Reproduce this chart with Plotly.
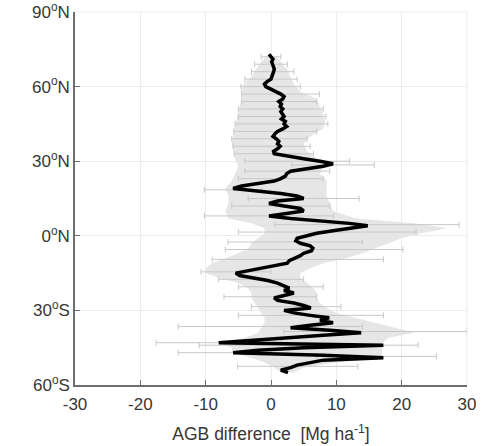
import plotly.graph_objects as go

# Zonal mean AGB difference (Mg/ha) by latitude (deg)
lat = [73, 72, 71, 70, 69, 68, 67, 66, 65, 64, 63, 62, 61, 60, 59, 58, 57, 56, 55, 54,
       53, 52, 51, 50, 49, 48, 47, 46, 45, 44, 43, 42, 41, 40, 39, 38, 37, 36, 35, 34,
       33, 32, 31, 30, 29, 28, 27, 26, 25, 24, 23, 22, 21, 20, 19, 18, 17, 16, 15, 14,
       13, 12, 11, 10, 9, 8, 7, 6, 5, 4, 3, 2, 1, 0, -1, -2, -3, -4, -5, -6,
       -7, -8, -9, -10, -11, -12, -13, -14, -15, -16, -17, -18, -19, -20, -21, -22, -23, -24, -25, -26,
       -27, -28, -29, -30, -31, -32, -33, -34, -35, -36, -37, -38, -39, -40, -41, -42, -43, -44, -45, -46,
       -47, -48, -49, -50, -51, -52, -53, -54, -55]
agb_diff = [-0.3, 0.0, 0.3, 0.1, 0.2, 0.3, 0.5, 0.4, 0.3, 0.2, 0.0, -0.6, -1.0, -0.8, 0.0, 0.8, 1.5, 2.0, 1.8, 1.2,
            1.6, 1.4, 1.8, 1.5, 1.7, 2.0, 1.6, 2.2, 2.0, 2.4, 1.8, 1.0, 0.6, 0.3, 0.8, 1.2, 1.0, 1.4, 1.0, 0.4,
            0.5, 2.5, 5.0, 7.5, 9.5, 8.0, 5.5, 3.0, 2.4, 2.2, 1.5, 0.5, -2.0, -4.5, -5.8, -2.0, 1.5, 4.0, 5.0, 1.0,
            -0.3, 2.0, 4.5, 5.0, 2.0, -0.3, 3.0, 8.0, 12.0, 14.8, 12.5, 9.5, 7.0, 5.5, 4.0, 3.8, 4.5, 6.0, 6.4, 6.2,
            5.0, 4.5, 3.5, 2.8, 2.5, 0.5, -2.0, -4.0, -5.4, -4.8, -2.5, -0.5, 1.0, 2.0, 2.8, 2.0, 3.5, 2.0, 0.5, 1.0,
            3.5, 5.0, 6.1, 2.0, 3.5, 6.0, 8.9, 7.5, 9.5, 6.0, 3.0, 9.0, 13.8, 8.0, 2.0, -3.0, -8.0, 17.2, 5.0, -2.0,
            -5.8, 8.0, 17.2, 8.0, 5.7, 4.0, 3.0, 1.5, 2.6]

# Shaded uncertainty band
band_lat = [72, 70, 67, 64, 61, 58, 55, 52, 49, 46, 43, 40, 37, 34, 31, 28, 25, 22, 19, 16,
            13, 10, 7, 5, 3, 1, -1, -3, -5, -7, -9, -11, -13, -15, -17, -19, -21, -23, -25, -27,
            -29, -31, -33, -35, -37, -39, -41, -43, -45, -47, -49, -51, -53, -55]
band_lo = [-0.8, -1.5, -2.3, -3.0, -4.2, -4.6, -4.5, -4.8, -5.0, -5.3, -5.6, -5.8, -6.0, -5.8, -5.5, -5.0, -5.5, -6.0, -7.0, -6.5,
           -6.5, -7.0, -6.5, -3.0, -1.0, -1.0, -2.0, -3.0, -3.5, -5.0, -7.0, -9.0, -10.0, -10.0, -8.0, -5.0, -3.5, -3.0, -3.0, -2.5,
           -2.0, -1.5, -1.0, -1.0, -1.5, -2.0, -4.0, -8.0, -6.0, -6.0, -3.0, -1.0, 0.5, 1.5]
band_hi = [0.8, 1.5, 2.5, 3.0, 3.5, 4.5, 7.0, 7.5, 8.0, 8.3, 8.0, 6.0, 5.0, 5.5, 7.0, 8.0, 7.5, 8.5, 8.5, 8.5,
           9.0, 9.5, 13.0, 22.0, 27.0, 23.0, 20.0, 18.0, 16.0, 14.0, 11.5, 8.0, 6.0, 4.5, 4.5, 5.5, 6.5, 7.0, 7.0, 7.5,
           8.5, 10.0, 13.0, 16.0, 19.0, 22.0, 18.0, 17.0, 17.0, 17.0, 17.0, 10.0, 5.0, 3.5]

# Error bars (left / right ends)
eb_lat = [72, 69, 66, 63, 60, 57, 54, 51, 48, 45, 42, 39, 36, 33, 30, 28.5, 26, 23, 18.5, 15,
          12, 8, 4.5, 1.5, -2.5, -5.5, -9.5, -14.5, -17.5, -20.5, -24.5, -28.5, -32, -36.5, -38.5, -43, -44, -47, -48.5, -52.5]
eb_lo = [-1.5, -2.5, -3.0, -4.0, -4.6, -4.5, -4.5, -5.0, -5.0, -5.5, -5.7, -6.0, -5.8, -5.6, -4.0, 3.2, -4.0, -5.0, -10.2, -3.5,
         -6.0, -10.2, 0.6, -5.0, -6.6, -7.0, -9.0, -10.7, -8.0, -5.0, -7.2, -3.0, -5.0, -14.2, 2.0, -17.6, -11.0, -14.2, 7.0, -5.1]
eb_hi = [1.5, 2.5, 3.5, 4.0, 4.5, 7.4, 7.0, 8.0, 8.4, 8.7, 7.0, 5.5, 6.0, 6.5, 12.0, 15.8, 9.0, 8.0, -1.4, 13.5,
         9.0, 9.6, 28.8, 22.2, 14.0, 20.2, 17.2, 0.0, 5.0, 8.0, 7.0, 10.7, 17.2, 14.0, 29.9, 1.6, 22.5, 2.6, 25.3, 13.3]

yticks = [-60, -30, 0, 30, 60, 90]
yticklabels = ['60<sup>o</sup>S', '30<sup>o</sup>S', '0<sup>o</sup>N', '30<sup>o</sup>N', '60<sup>o</sup>N', '90<sup>o</sup>N']
xticks = [-30, -20, -10, 0, 10, 20, 30]
xticklabels = ['-30', '-20', '-10', '0', '10', '20', '30']

eb_mid = [(a + b) / 2 for a, b in zip(eb_lo, eb_hi)]
eb_half = [(b - a) / 2 for a, b in zip(eb_lo, eb_hi)]

fig = go.Figure()
fig.add_trace(go.Scatter(x=band_lo, y=band_lat, mode='lines', line=dict(width=0, color='rgba(0,0,0,0)'),
                         showlegend=False, hoverinfo='skip'))
fig.add_trace(go.Scatter(x=band_hi, y=band_lat, mode='lines', line=dict(width=0, color='rgba(0,0,0,0)'),
                         fill='tonextx', fillcolor='rgb(230,230,230)', showlegend=False, hoverinfo='skip'))
fig.add_trace(go.Scatter(x=eb_mid, y=eb_lat, mode='markers', marker=dict(size=0.1, color='rgba(0,0,0,0)'),
                         error_x=dict(type='data', array=eb_half, color='rgb(200,200,200)', thickness=1, width=3),
                         showlegend=False))
fig.add_trace(go.Scatter(x=agb_diff, y=lat, mode='lines', line=dict(color='black', width=3.5),
                         showlegend=False))

font = dict(family='Liberation Sans, Arial, sans-serif', size=17, color='rgb(55,55,55)')
axis_col = 'rgb(110,110,110)'
grid_col = 'rgb(235,235,235)'

fig.update_layout(
    width=495, height=446,
    margin=dict(l=75, r=28, t=12, b=61),
    plot_bgcolor='white', paper_bgcolor='white',
    font=font,
    xaxis=dict(range=[-30, 30], tickvals=xticks, ticktext=xticklabels, ticks='inside', ticklen=5,
               tickcolor=axis_col, automargin=False, ticklabeloverflow='allow', ticklabelstandoff=3,
               showline=True, linecolor=axis_col, linewidth=1.5, showgrid=True, gridcolor=grid_col,
               zeroline=False,
               title=dict(text='AGB difference  [Mg ha<sup>-1</sup>]', standoff=15,
                          font=dict(family='Liberation Sans, Arial, sans-serif', size=17.5, color='rgb(55,55,55)')),
               tickfont=font),
    yaxis=dict(range=[-60, 90], tickvals=yticks, ticktext=yticklabels, ticks='inside', ticklen=5,
               tickcolor=axis_col, automargin=False, ticklabeloverflow='allow',
               showline=True, linecolor=axis_col, linewidth=1.5, showgrid=True,
               gridcolor=grid_col, zeroline=False, tickfont=font),
)
fig.add_shape(type='line', xref='paper', yref='paper', x0=0, x1=1, y0=1, y1=1,
              line=dict(color=grid_col, width=1))
fig.add_shape(type='line', xref='paper', yref='paper', x0=1, x1=1, y0=0, y1=1,
              line=dict(color=grid_col, width=1))

fig.write_html('out.html', config={'displayModeBar': False},
               post_script="document.body.style.margin='0';")
